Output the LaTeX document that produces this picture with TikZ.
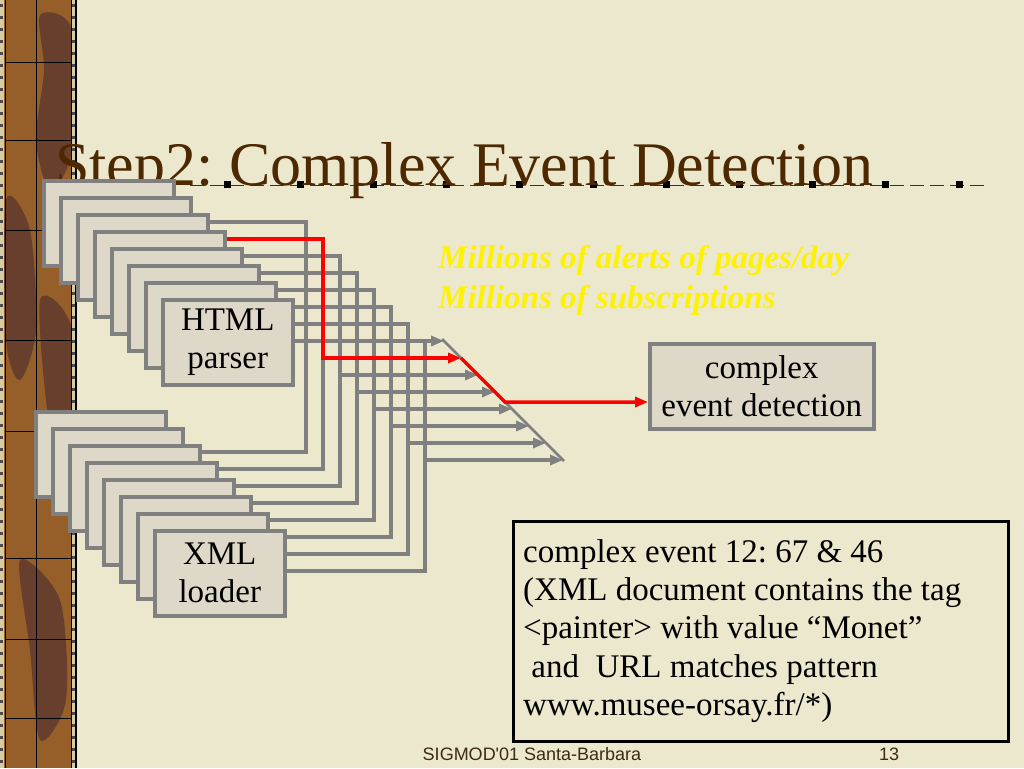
\documentclass[tikz,border=0pt]{standalone}
\usepackage{fontspec}
\setmainfont{Liberation Serif}
\setsansfont{Liberation Sans}
\usetikzlibrary{arrows.meta}
\frenchspacing

\definecolor{paper}{RGB}{236,232,206}
\definecolor{panelfill}{RGB}{222,216,200}
\definecolor{wiregray}{RGB}{128,128,128}
\definecolor{titlebrown}{RGB}{77,40,0}
\definecolor{bandbrown}{RGB}{150,95,42}
\definecolor{banddark}{RGB}{92,55,45}
\definecolor{bandedge}{RGB}{215,205,165}
\definecolor{footcol}{RGB}{60,42,20}

\begin{document}
\begin{tikzpicture}[x=1pt, y=-1pt,
    panel/.style={draw=wiregray, fill=panelfill, line width=3.5pt, minimum width=130pt,
      minimum height=85pt, anchor=north west, inner sep=0pt, align=center,
      font=\fontsize{33}{38}\selectfont},
    wire/.style={draw=wiregray, line width=3.5pt},
    hot/.style={draw=red, line width=3.5pt},
    arrowed/.style={-{Triangle[length=13pt,width=10pt]}}]

  \useasboundingbox (0,0) rectangle (1024,768);
  \fill[paper] (0,0) rectangle (1024,768);

  % left band
  \fill[bandbrown] (0,0) rectangle (76,768);
  \fill[banddark, opacity=.8] plot[smooth cycle] coordinates {(40,15) (72,30) (72,150) (50,190) (36,140) (44,70)};
  \fill[banddark, opacity=.8] plot[smooth cycle] coordinates {(6,200) (30,230) (36,330) (20,380) (6,340)};
  \fill[banddark, opacity=.8] plot[smooth cycle] coordinates {(40,300) (72,330) (72,470) (50,430)};
  \fill[banddark, opacity=.8] plot[smooth cycle] coordinates {(20,560) (60,600) (66,700) (40,740) (30,650)};
  \fill[bandedge] (0,0) rectangle (4,768);
  \fill[bandedge] (71,0) rectangle (75,768);
  \foreach \y in {4,16,...,764} {
    \fill[black!70] (0,\y) rectangle (3,\y+3);
    \fill[black!70] (72,\y) rectangle (75,\y+3);
  }
  \draw[black, line width=1pt] (5,0) -- (5,768) (36,0) -- (36,768) (71,0) -- (71,768);
  \draw[black, line width=2.5pt] (76,0) -- (76,768);
  \foreach \y in {62,140,230,340,431,558,639,718}
    \draw[black, line width=1pt] (5,\y) -- (71,\y);

  % title
  \draw[black!80, line width=.8pt, dash pattern=on 14pt off 6pt] (190,185) -- (990,185);
  \foreach \k in {0,...,10}
    \fill (223.5+73.2*\k,180.5) rectangle ++(7,7);
  \node[anchor=base west, inner sep=0pt, text=titlebrown, font=\fontsize{62}{70}\selectfont]
    (title) at (55,185) {Step2: Complex Event Detection};

  % stacks
  \foreach \i in {0,...,6}
    \node[panel] (html\i) at (42+17*\i,179+17*\i) {};
  \node[panel] (html7) at (161,298) {HTML\\parser};
  \foreach \i in {0,...,6}
    \node[panel] (xml\i) at (34+17*\i,410+17*\i) {};
  \node[panel] (xml7) at (153,529) {XML\\loader};

  \node[panel, minimum width=224pt] (ced) at (648,342) {complex\\event detection};

  % wires
  \foreach \j in {0,...,7} {
    \pgfmathtruncatemacro\k{min(\j+2,7)}
    \coordinate (b\j) at (306+17*\j,341+17*\j);
    \coordinate (d\j) at (444+17*\j,341+17*\j);
    \draw[wire] (html\k.east |- 0,222+17*\j) -- (306+17*\j,222+17*\j)
      -- (306+17*\j,452+17*\j) -- (xml\k.east |- 0,452+17*\j);
  }
  \foreach \j in {0,2,3,4,5,6,7}
    \draw[wire, arrowed] (b\j) -- (d\j);
  \coordinate (dtop) at (442,339);
  \coordinate (dbot) at (564,461);
  \draw[wiregray, line width=2.5pt] (dtop) -- (dbot);

  \coordinate (turn) at (505,402);
  \draw[hot, arrowed] (html3.east |- 0,239) -| (b1) -- (d1);
  \draw[hot, arrowed] (d1) -- (turn) -- (ced.west |- turn);

  \node[anchor=north west, inner sep=0pt, align=left, text=yellow,
    font=\fontsize{33}{40}\selectfont\bfseries\itshape]
    (load) at (438,245) {Millions of alerts of pages/day\\Millions of subscriptions};

  % example box
  \node[draw=black, line width=3pt, minimum width=495pt, minimum height=220pt,
    anchor=north west, inner sep=0pt] (note) at (512,520) {};
  \node[anchor=north west, inner sep=0pt, align=left, font=\fontsize{33}{38.3}\selectfont]
    (notetext) at (523,539) {complex event 12: 67 \& 46\\(XML document contains the tag\\<painter> with value “Monet”\\\hspace*{.25em}and\ \ URL matches pattern\\www.musee-orsay.fr/*)};

  % footer
  \node[anchor=base, inner sep=0pt, text=footcol, font=\sffamily\fontsize{18}{20}\selectfont]
    (venue) at (532,760) {SIGMOD\textquotesingle01 Santa-Barbara};
  \node[anchor=base, inner sep=0pt, text=footcol, font=\sffamily\fontsize{18}{20}\selectfont]
    (page) at (889,760) {13};
\end{tikzpicture}
\end{document}
